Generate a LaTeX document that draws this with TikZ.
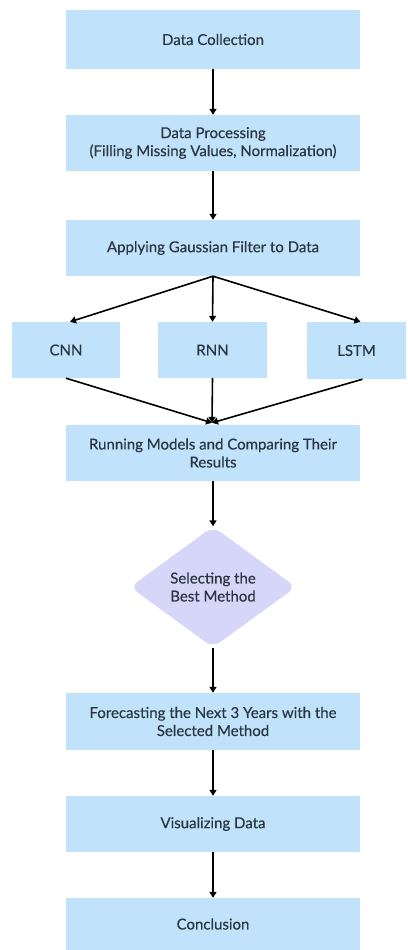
\documentclass[tikz,border=0pt]{standalone}
\usepackage{fontspec}
\setmainfont{Lato}[FakeBold=0.4]
\usetikzlibrary{arrows.meta,shapes.geometric,calc}
\definecolor{boxblue}{HTML}{C0E2FA}
\definecolor{lav}{HTML}{D6D6F8}
\definecolor{txt}{HTML}{2A3642}
\begin{document}
\begin{tikzpicture}[x=1pt,y=-1pt,
  stepbox/.style={rectangle,fill=boxblue,draw=none,inner sep=0pt,align=center,
    text=txt,font=\fontsize{15}{18}\selectfont},
  decide/.style={diamond,fill=lav,draw=none,inner sep=0pt,align=center,rounded corners=9pt,
    text=txt,font=\fontsize{15}{18}\selectfont},
  arr/.style={-{Triangle[length=6pt,width=7pt]},line width=1.6pt,black},
  ln/.style={line width=1.6pt,black}]
\useasboundingbox (0,0) rectangle (407,950);
\node[stepbox,minimum width=294pt,minimum height=59pt] (dc) at (213,39.5) {Data Collection};
\node[stepbox,minimum width=294pt,minimum height=56pt] (dp) at (213,143) {Data Processing\\(Filling Missing Values, Normalization)};
\node[stepbox,minimum width=294pt,minimum height=56pt] (gf) at (213,248) {Applying Gaussian Filter to Data};
\node[stepbox,minimum width=108pt,minimum height=56pt] (cnn) at (66,350) {CNN};
\node[stepbox,minimum width=109pt,minimum height=56pt] (rnn) at (212.5,350) {RNN};
\node[stepbox,minimum width=99pt,minimum height=57pt] (lstm) at (356.5,350.5) {LSTM};
\node[stepbox,minimum width=294pt,minimum height=56pt] (run) at (213,453) {Running Models and Comparing Their\\Results};
\node[decide,minimum width=166pt,minimum height=121pt] (sel) at (213,587) {Selecting the\\Best Method};
\node[stepbox,minimum width=294pt,minimum height=57pt] (fc) at (213,721.5) {Forecasting the Next 3 Years with the\\Selected Method};
\node[stepbox,minimum width=294pt,minimum height=56pt] (vis) at (213,824) {Visualizing Data};
\node[stepbox,minimum width=294pt,minimum height=52pt] (con) at (213,924) {Conclusion};
\coordinate (m) at ($(run.north)+(-1,-2)$);
\draw[arr] (dc) -- (dp);
\draw[arr] (dp) -- (gf);
\draw[arr] (gf.south) -- ($(cnn.north)+(4,0)$);
\draw[arr] (gf.south) -- (rnn.north);
\draw[arr] (gf.south) -- ($(lstm.north)+(4,0)$);
\draw[arr] (cnn.south) -- (m);
\draw[arr] (rnn.south) -- (m);
\draw[arr] ($(lstm.south)+(6,0)$) -- (m);
\draw[arr] (run) -- (sel);
\draw[arr] (sel) -- (fc);
\draw[arr] (fc) -- (vis);
\draw[arr] (vis) -- (con);
\end{tikzpicture}
\end{document}
